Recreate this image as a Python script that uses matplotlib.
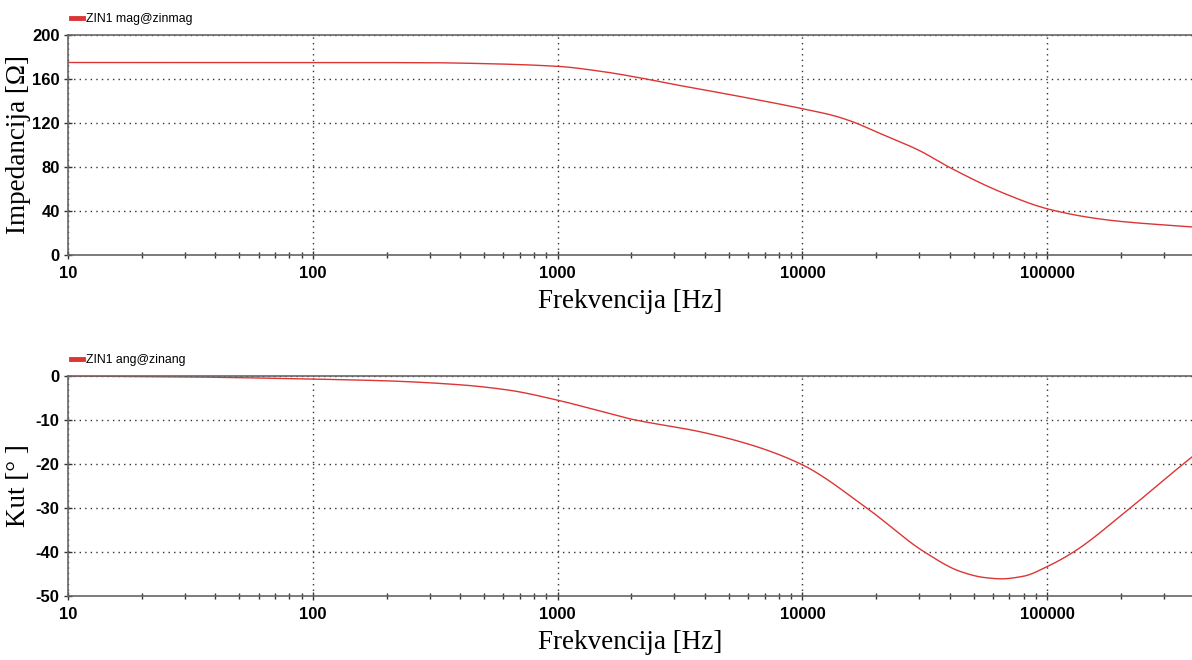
import matplotlib.pyplot as plt
import numpy as np

plt.rcParams["axes.unicode_minus"] = False

# frequency points (Hz)
freq_mag = [10, 100, 300, 500, 1000, 1500, 2300, 3000, 5000, 10000, 13500, 16300,
            20000, 30000, 39600, 65000, 100000, 150000, 200000, 390000]
zin_mag = [175, 175, 174.8, 174, 171.5, 167, 160, 155, 146, 133, 126.5, 120.5,
           112, 95, 80, 57, 42, 34, 30.5, 25.5]

freq_ang = [10, 30, 100, 200, 400, 630, 1000, 1500, 2000, 3840, 6200, 10000, 18300,
            31500, 44500, 55300, 65000, 80000, 100000, 128000, 218000, 359000, 390000]
zin_ang = [0, -0.2, -0.7, -1.1, -2.0, -3.2, -5.5, -8, -9.8, -12.7, -15.7, -20.2, -30,
           -40, -44.5, -45.8, -46.1, -45.5, -43.3, -40, -30, -20, -18.4]

xticks = [10, 100, 1000, 10000, 100000]
xticklabels = ["10", "100", "1000", "10000", "100000"]

line_color = "#dc3535"
serif = ["Liberation Serif", "DejaVu Serif"]


def pchip(xs, ys, n=600):
    # monotone cubic Hermite interpolation in log10(f)
    x = np.log10(np.asarray(xs, float))
    y = np.asarray(ys, float)
    h = np.diff(x)
    d = np.diff(y) / h
    m = np.zeros_like(y)
    for i in range(1, len(y) - 1):
        if d[i - 1] * d[i] > 0:
            w1 = 2 * h[i] + h[i - 1]
            w2 = h[i] + 2 * h[i - 1]
            m[i] = (w1 + w2) / (w1 / d[i - 1] + w2 / d[i])
    m[0], m[-1] = d[0], d[-1]
    xg = np.linspace(x[0], x[-1], n)
    idx = np.clip(np.searchsorted(x, xg) - 1, 0, len(h) - 1)
    t = (xg - x[idx]) / h[idx]
    h00 = 2 * t**3 - 3 * t**2 + 1
    h10 = t**3 - 2 * t**2 + t
    h01 = -2 * t**3 + 3 * t**2
    h11 = t**3 - t**2
    yg = h00 * y[idx] + h10 * h[idx] * m[idx] + h01 * y[idx + 1] + h11 * h[idx] * m[idx + 1]
    return 10 ** xg, yg


def style_axes(ax, ylim, yticks, ylabel):
    ax.set_xscale("log")
    ax.set_xlim(10, 390000)
    ax.set_ylim(*ylim)
    ax.set_yticks(yticks)
    ax.set_xticks(xticks)
    ax.set_xticklabels(xticklabels)
    ax.grid(True, which="major", linestyle=(0, (1, 3)), color="#333333", linewidth=1.0)
    for s in ["left", "bottom", "top"]:
        ax.spines[s].set_color("#666666")
        ax.spines[s].set_linewidth(1.2)
    ax.spines["right"].set_visible(False)
    ax.tick_params(axis="both", which="major", direction="inout", length=6, width=1,
                   color="#333333", labelsize=12, pad=3)
    ax.tick_params(axis="x", which="major", pad=5)
    ax.tick_params(axis="x", which="minor", direction="inout", length=5, width=1,
                   color="#333333", labelbottom=False)
    for lab in ax.get_xticklabels() + ax.get_yticklabels():
        lab.set_fontweight("bold")
        lab.set_family("Liberation Sans")
    ax.set_xlabel("Frekvencija [Hz]", family=serif, fontsize=19.5, labelpad=6)
    ax.set_ylabel(ylabel, family=serif, fontsize=19.5)
    ax.yaxis.set_label_coords(-0.033, 0.5)


fig = plt.figure(figsize=(11.92, 6.6), dpi=100)
ax1 = fig.add_axes([68 / 1192, 1 - 255 / 660, (1192 - 68) / 1192, 220 / 660])
ax2 = fig.add_axes([68 / 1192, 1 - 596 / 660, (1192 - 68) / 1192, 220 / 660])

x, y = pchip(freq_mag, zin_mag)
ax1.plot(x, y, color=line_color, linewidth=1.0, label="ZIN1 mag@zinmag")
style_axes(ax1, (0, 200), [0, 40, 80, 120, 160, 200], "Impedancija [Ω]")

x, y = pchip(freq_ang, zin_ang)
ax2.plot(x, y, color=line_color, linewidth=1.0, label="ZIN1 ang@zinang")
style_axes(ax2, (-50, 0), [-50, -40, -30, -20, -10, 0], "Kut [° ]")

for ax in (ax1, ax2):
    leg = ax.legend(loc="lower left", bbox_to_anchor=(-0.006, 1.0), frameon=False,
                    handlelength=1.0, handletextpad=0.2, borderaxespad=0.4,
                    prop={"family": "Liberation Sans", "size": 8.8})
    for h in leg.get_lines():
        h.set_linewidth(3.5)

fig.savefig("out.png", dpi=100)
